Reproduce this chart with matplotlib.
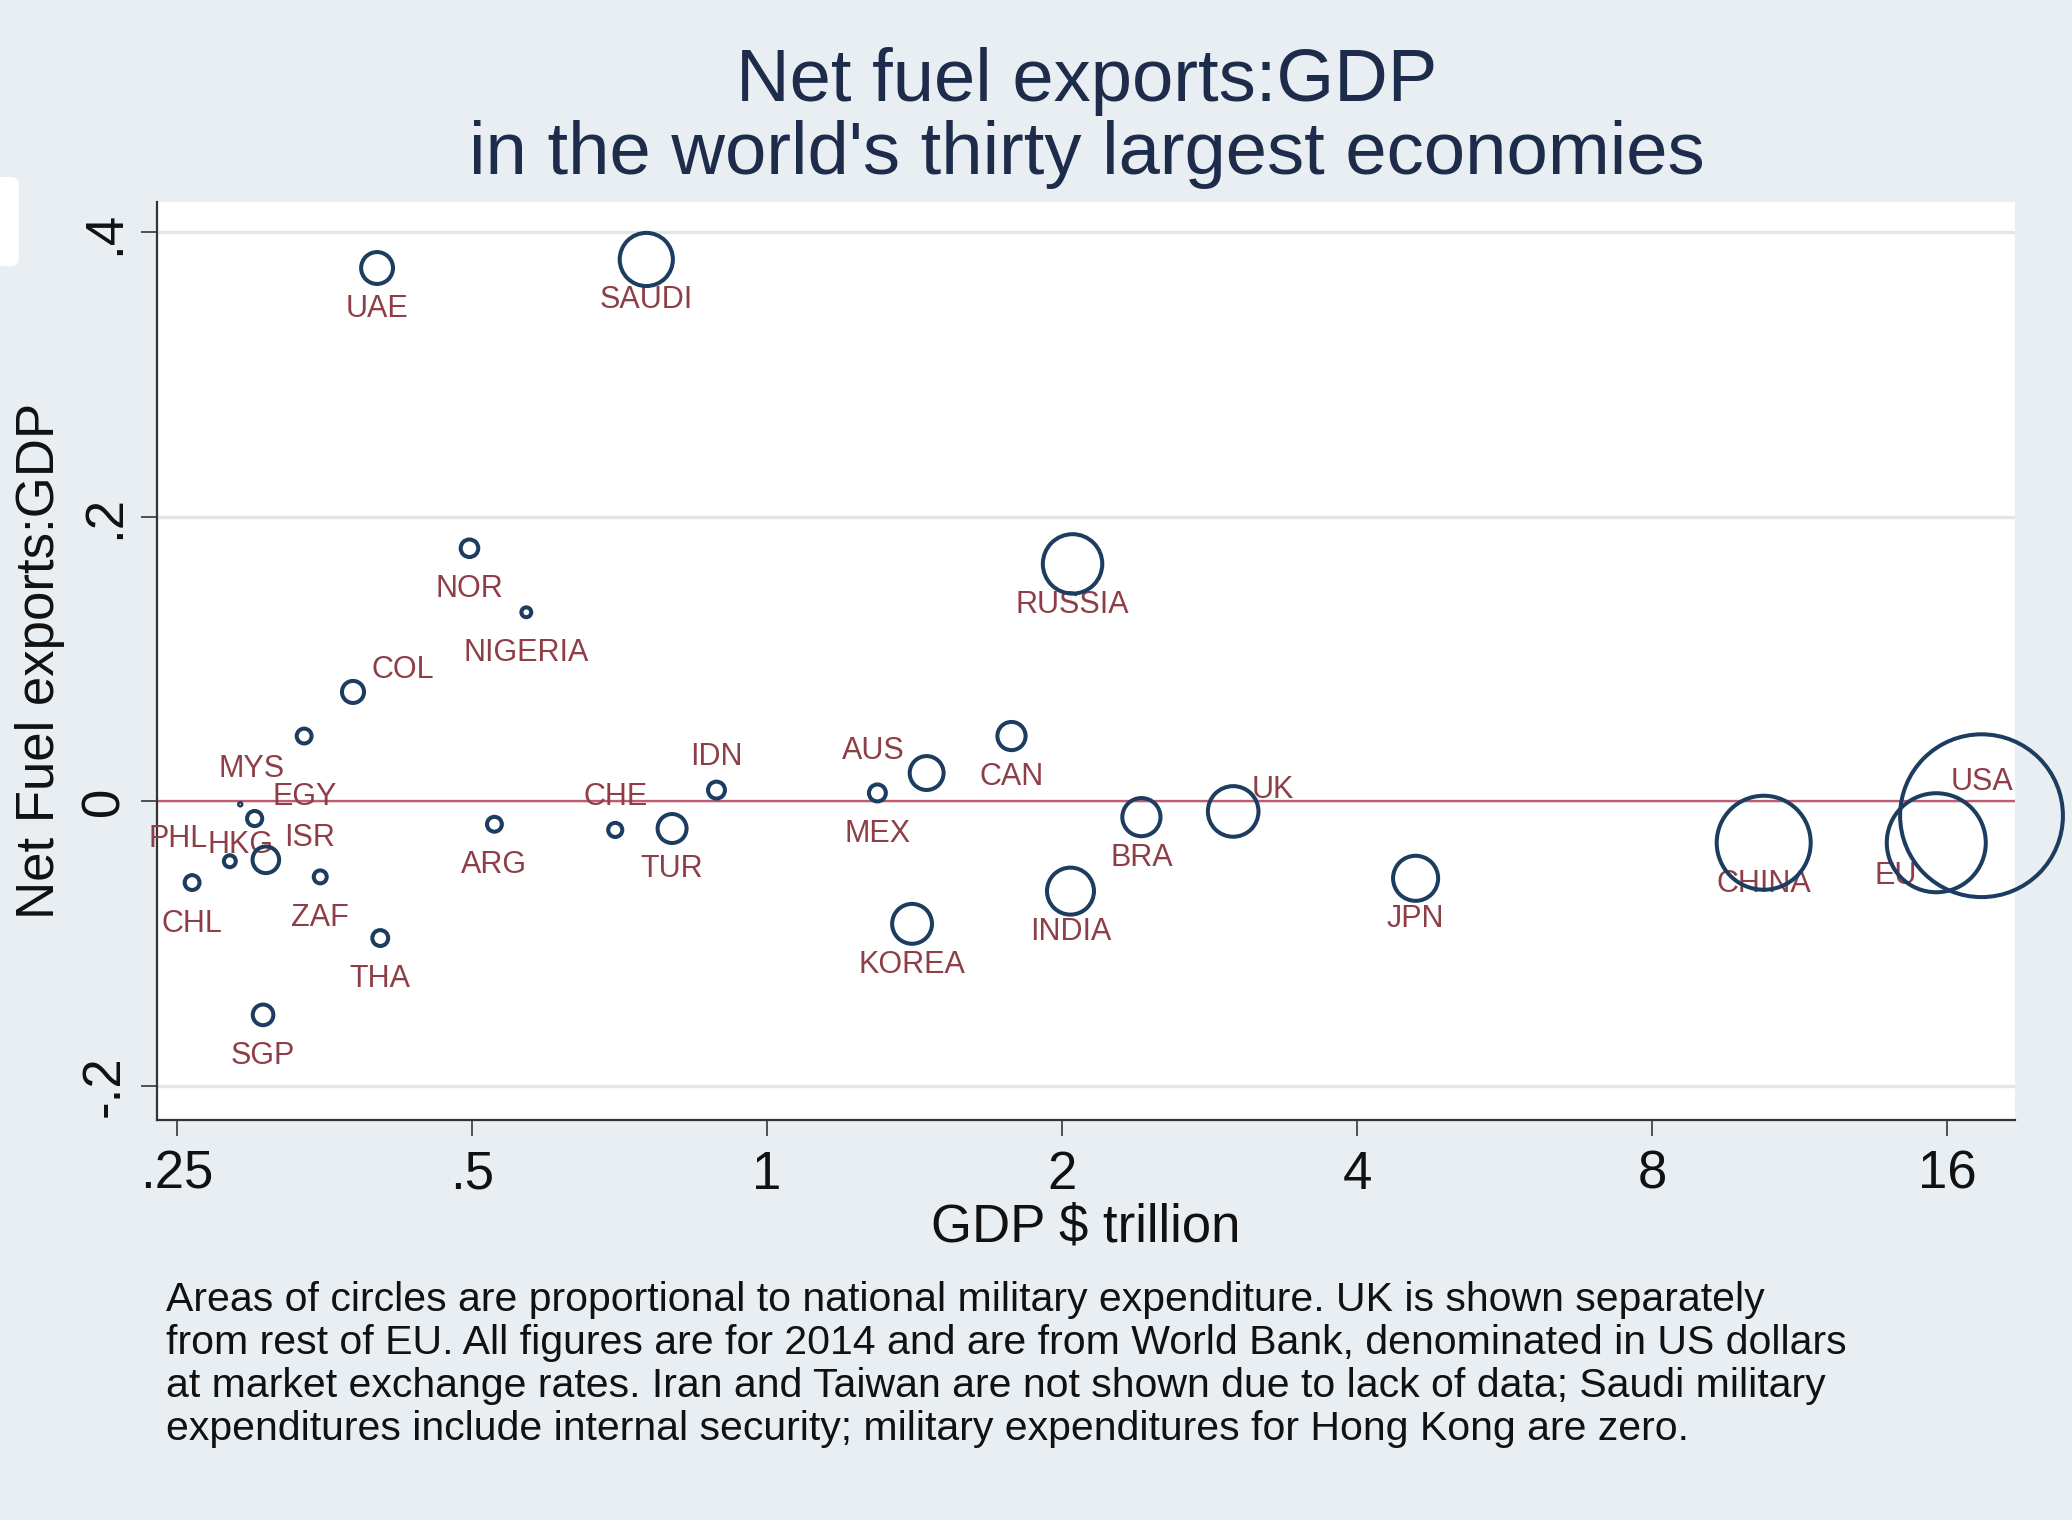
"""
Bubble chart: net fuel exports / GDP vs GDP (log2), circle area ~ military spending.
"""
import numpy as np
import matplotlib
matplotlib.use("Agg")
import matplotlib.pyplot as plt
from matplotlib.patches import FancyBboxPatch

plt.rcParams['font.family'] = ['Liberation Sans', 'DejaVu Sans']

# ---- data ----
COUNTRIES = ["UAE", "SAUDI", "NOR", "NIGERIA", "COL", "MYS", "EGY", "HKG", "PHL",
             "ISR", "CHL", "ZAF", "THA", "SGP", "ARG", "CHE", "TUR", "IDN", "MEX",
             "AUS", "CAN", "KOREA", "RUSSIA", "INDIA", "BRA", "UK", "JPN", "CHINA",
             "EU", "USA"]
GDP_TRN = [0.40, 0.753, 0.497, 0.568, 0.378, 0.337, 0.300, 0.290, 0.283,
           0.308, 0.259, 0.350, 0.403, 0.306, 0.527, 0.700, 0.800, 0.888, 1.296,
           1.455, 1.776, 1.406, 2.05, 2.04, 2.41, 2.99, 4.59, 10.4,
           15.6, 17.35]
FUEL_GDP = [0.375, 0.381, 0.178, 0.133, 0.077, 0.046, -0.012, -0.002, -0.042,
            -0.041, -0.057, -0.053, -0.096, -0.150, -0.016, -0.020, -0.019, 0.008, 0.006,
            0.020, 0.046, -0.086, 0.167, -0.063, -0.011, -0.007, -0.054, -0.029,
            -0.029, -0.010]
MILEX_BN = [23, 64, 7, 2.2, 11, 5, 5.2, 0, 3.2,
            16, 5, 3.8, 5.7, 9.6, 5, 4.5, 19, 6.5, 6.5,
            26, 18, 36, 80, 50, 33, 58, 46, 200,
            222, 600]
# marker-label clock position per country (Stata style)
LABEL_POS = {"COL": 2, "EGY": 2, "ISR": 2, "UK": 2, "PHL": 10, "AUS": 10,
             "MYS": 7, "EU": 7, "CHE": 12, "IDN": 12, "USA": 12}

XTICKS = [0.25, 0.5, 1, 2, 4, 8, 16]
XTICK_LABELS = [".25", ".5", "1", "2", "4", "8", "16"]
YTICKS = [-0.2, 0, 0.2, 0.4]
YTICK_LABELS = ["-.2", "0", ".2", ".4"]

FOOTNOTE = [
    "Areas of circles are proportional to national military expenditure. UK is shown separately",
    "from rest of EU. All figures are for 2014 and are from World Bank, denominated in US dollars",
    "at market exchange rates. Iran and Taiwan are not shown due to lack of data; Saudi military",
    "expenditures include internal security; military expenditures for Hong Kong are zero.",
]

BG = "#E9EEF2"
NAVY = "#1C3D60"
MAROON = "#8E3E47"
TITLE_C = "#1E2C4C"
GRID = "#E4E6E4"
ZERO_C = "#C45A72"

# offsets in points, horizontal alignment
OFFSETS = {6: ((0, -29.5), "center"), 12: ((0, 24), "center"),
           2: ((13, 15.5), "left"), 10: ((-16, 16), "right"),
           7: ((-14, -24), "right")}

W, H = 2072, 1520
fig = plt.figure(figsize=(W / 100, H / 100), dpi=100, facecolor=BG)

# odd white tab at the left edge of the original
fig.patches.append(FancyBboxPatch((-0.01, 1 - 266 / H), 0.019, 89 / H,
                                  boxstyle="round,pad=0,rounding_size=0.004",
                                  transform=fig.transFigure, fc="white", ec="none"))

ax = fig.add_axes([157 / W, 1 - 1120 / H, (2015 - 157) / W, (1120 - 202) / H])
ax.set_facecolor("white")

s = np.maximum(np.array(MILEX_BN) * 22.9, 3)
ax.scatter(GDP_TRN, FUEL_GDP, s=s, facecolors="none", edgecolors=NAVY,
           linewidths=2.9, zorder=4, clip_on=False)

for name, x, y in zip(COUNTRIES, GDP_TRN, FUEL_GDP):
    off, ha = OFFSETS[LABEL_POS.get(name, 6)]
    ax.annotate(name, (x, y), xytext=off, textcoords="offset points",
                ha=ha, va="center", fontsize=22, color=MAROON, zorder=3)

ax.axhline(0, color=ZERO_C, lw=1.6, zorder=2)

ax.set_xscale("log", base=2)
ax.set_xlim(0.2385, 18.77)
ax.set_ylim(-0.2239, 0.4214)
ax.set_xticks(XTICKS)
ax.set_xticklabels(XTICK_LABELS)
ax.xaxis.set_minor_locator(matplotlib.ticker.NullLocator())
ax.set_yticks(YTICKS)
ax.set_yticklabels(YTICK_LABELS, rotation=90, va="center")
ax.yaxis.grid(True, color=GRID, lw=2.4, zorder=0)
ax.set_axisbelow(True)

for side in ["top", "right"]:
    ax.spines[side].set_visible(False)
for side in ["left", "bottom"]:
    ax.spines[side].set_color("#333333")
    ax.spines[side].set_linewidth(1.6)

ax.tick_params(axis="both", length=11.5, width=1.3, color="#444444",
               labelsize=38, labelcolor="#111111")
ax.tick_params(axis="x", pad=10)
ax.tick_params(axis="y", pad=8)

ax.set_xlabel(r"GDP \$ trillion", fontsize=38, color="#111111")
ax.xaxis.set_label_coords(0.5, -0.0904)
ax.set_ylabel("Net Fuel exports:GDP", fontsize=38, color="#111111")
ax.yaxis.set_label_coords(-0.0494, 0.5)

fig.text(0.5245, 1 - 101 / H, "Net fuel exports:GDP", ha="center", va="baseline",
         fontsize=53.5, color=TITLE_C)
fig.text(0.5245, 1 - 174 / H, "in the world's thirty largest economies", ha="center",
         va="baseline", fontsize=53.5, color=TITLE_C)

for i, line in enumerate(FOOTNOTE):
    fig.text(166 / W, 1 - (1311 + 43 * i) / H, line, ha="left", va="baseline",
             fontsize=29.5, color="#111111")

fig.savefig("out.png", dpi=100, facecolor=BG)
